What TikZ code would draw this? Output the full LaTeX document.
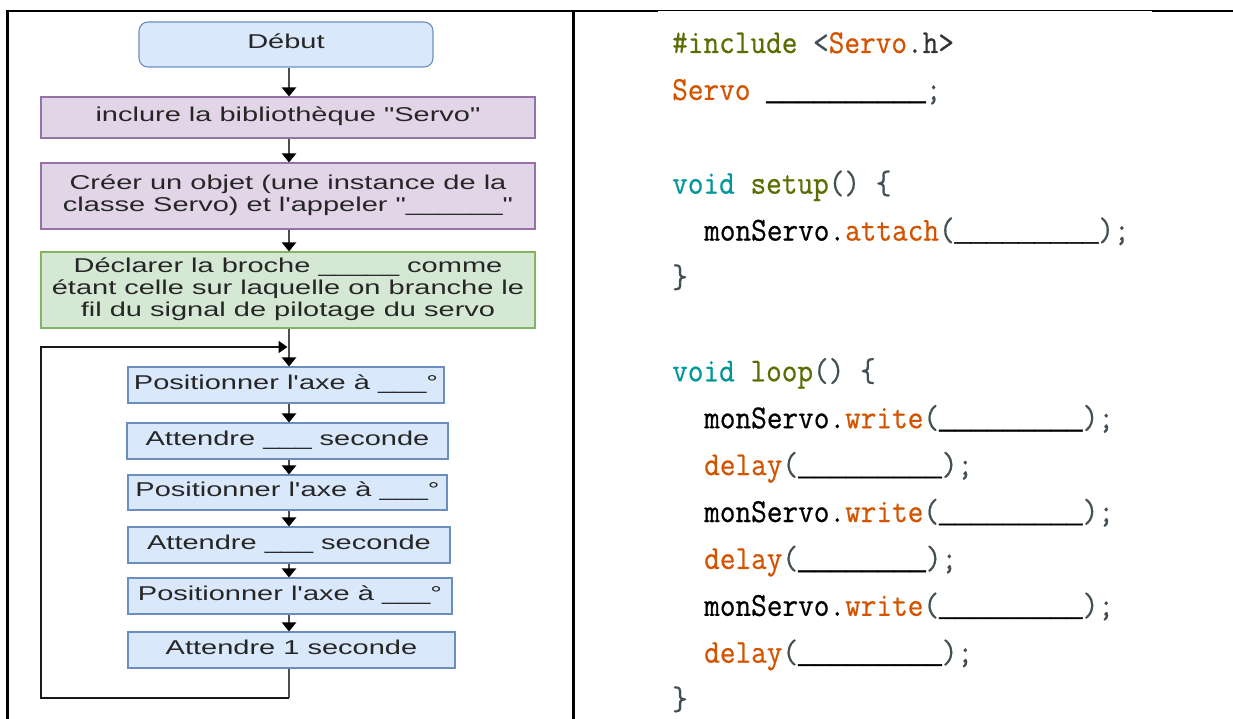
\documentclass[tikz,border=0pt]{standalone}
\usepackage{fontspec}
\usepackage{graphicx}
\usetikzlibrary{arrows.meta}
\newfontfamily\flowfont{Liberation Sans}
\newfontfamily\codefont{Latin Modern Mono}[FakeBold=0.6]
\newfontfamily\blankfont{Liberation Mono}[FakeBold=1.6]

\definecolor{blueF}{HTML}{DAE8FC}\definecolor{blueS}{HTML}{6C8EBF}
\definecolor{purpF}{HTML}{E1D5E7}\definecolor{purpS}{HTML}{9673A6}
\definecolor{greenF}{HTML}{D5E8D4}\definecolor{greenS}{HTML}{82B366}
\definecolor{kwOlive}{HTML}{5E6D03}
\definecolor{kwOrange}{HTML}{D35400}
\definecolor{kwTeal}{HTML}{00979C}
\definecolor{punct}{HTML}{434F54}
\definecolor{conn}{HTML}{4D4D4D}

% wide flowchart lettering
\newcommand{\flowtxt}[1]{\scalebox{1.45}[1]{\begin{tabular}{@{}c@{}}#1\end{tabular}}}
% slightly tall monospace code lettering
\newcommand{\codetxt}[1]{\scalebox{1}[1.1]{#1}}
\newcommand{\pc}[1]{\textcolor{punct}{#1}}
\newcommand{\og}[1]{\textcolor{kwOrange}{#1}}
% fill-in blanks: underscores from a face whose underscore spans the full cell
\newcommand{\blk}[1]{{\color{black}\blankfont\fontsize{26.6}{30}\selectfont#1}}

\tikzset{
  box/.style={draw, line width=1.1pt, inner sep=0pt, text=black!85,
    font=\flowfont\fontsize{20}{22}\selectfont},
  bluebox/.style={box, fill=blueF, draw=blueS},
  purplebox/.style={box, fill=purpF, draw=purpS},
  greenbox/.style={box, fill=greenF, draw=greenS},
  flow/.style={draw=conn, line width=2.4pt,
    -{Triangle[length=9pt,width=14pt,color=black]}},
  loopline/.style={draw=black!90, line width=1.8pt,
    -{Triangle[length=9pt,width=12pt,color=black]}},
  rule/.style={line width=2.2pt},
  code/.style={anchor=base west, inner sep=0pt,
    font=\codefont\fontsize{30.4}{34}\selectfont}
}

\begin{document}
\begin{tikzpicture}[x=1pt, y=-1pt]
\useasboundingbox[fill=white] (0,0) rectangle (1233,719);

% ---- table rules ----
\draw[rule] (7.5,719) -- (7.5,11) -- (658,11);
\draw[line width=1pt] (658,11) -- (1152,11);
\draw[rule] (1152,11) -- (1233,11);
\draw[rule] (573.5,11) -- (573.5,719);

% ---- flowchart ----
\node[bluebox, rounded corners=9pt, minimum width=294pt, minimum height=45pt]
  (start) at (286,44.5) {\flowtxt{Début}};
\node[purplebox, minimum width=494pt, minimum height=41pt]
  (incl) at (288,117.5) {\flowtxt{inclure la bibliothèque "Servo"}};
\node[purplebox, minimum width=494pt, minimum height=66pt]
  (obj) at (288,196) {\flowtxt{Créer un objet (une instance de la\\classe Servo) et l'appeler "\_\_\_\_\_\_"}};
\node[greenbox, minimum width=494pt, minimum height=76pt]
  (pin) at (288,290) {\flowtxt{Déclarer la broche \_\_\_\_\_ comme\\étant celle sur laquelle on branche le\\fil du signal de pilotage du servo}};
\node[bluebox, minimum width=316pt, minimum height=36pt]
  (p1) at (286,385) {\flowtxt{Positionner l'axe à \_\_\_°}};
\node[bluebox, minimum width=321pt, minimum height=36pt]
  (a1) at (287.5,441) {\flowtxt{Attendre \_\_\_ seconde}};
\node[bluebox, minimum width=319pt, minimum height=35pt]
  (p2) at (287.5,492.5) {\flowtxt{Positionner l'axe à \_\_\_°}};
\node[bluebox, minimum width=322pt, minimum height=36pt]
  (a2) at (289,545) {\flowtxt{Attendre \_\_\_ seconde}};
\node[bluebox, minimum width=324pt, minimum height=36pt]
  (p3) at (290,596) {\flowtxt{Positionner l'axe à \_\_\_°}};
\node[bluebox, minimum width=327pt, minimum height=36pt]
  (a3) at (291.5,650) {\flowtxt{Attendre 1 seconde}};

\coordinate (join) at (289,347);
\coordinate (lb) at (41,698);
\coordinate (lt) at (41,347);

\draw[flow] (start.south -| join) -- (incl.north -| join);
\draw[flow] (incl.south -| join) -- (obj.north -| join);
\draw[flow] (obj.south -| join) -- (pin.north -| join);
\draw[flow] (pin.south -| join) -- (p1.north -| join);
\draw[flow] (p1.south -| join) -- (a1.north -| join);
\draw[flow] (a1.south -| join) -- (p2.north -| join);
\draw[flow] (p2.south -| join) -- (a2.north -| join);
\draw[flow] (a2.south -| join) -- (p3.north -| join);
\draw[flow] (p3.south -| join) -- (a3.north -| join);
\draw[draw=conn, line width=2.4pt] (a3.south -| join) -- (lb -| join);
\draw[loopline, shorten >=1.5pt] (lb -| join) -- (lb) -- (lt) -- (join);

% ---- Arduino sketch ----
\node[code] (c1) at (672,53) {\codetxt{\textcolor{kwOlive}{\#include} \pc{<}\og{Servo}\textcolor{black!80}{.h>}}};
\node[code] (c2) at (672,99.9) {\codetxt{\og{Servo} \blk{\_\_\_\_\_\_\_\_\_\_}\pc{;}}};
\node[code] (c3) at (672,193.7) {\codetxt{\textcolor{kwTeal}{void} \textcolor{kwOlive}{setup}\pc{() \{}}};
\node[code] (c4) at (704,240.6) {\codetxt{monServo.\og{attach}\pc{(}\blk{\_\_\_\_\_\_\_\_\_}\pc{);}}};
\node[code] (c5) at (672,287.5) {\codetxt{\pc{\}}}};
\node[code] (c6) at (672,381.3) {\codetxt{\textcolor{kwTeal}{void} \textcolor{kwOlive}{loop}\pc{() \{}}};
\node[code] (c7) at (704,428.2) {\codetxt{monServo.\og{write}\pc{(}\blk{\_\_\_\_\_\_\_\_\_}\pc{);}}};
\node[code] (c8) at (704,475.1) {\codetxt{\og{delay}\pc{(}\blk{\_\_\_\_\_\_\_\_\_}\pc{);}}};
\node[code] (c9) at (704,522) {\codetxt{monServo.\og{write}\pc{(}\blk{\_\_\_\_\_\_\_\_\_}\pc{);}}};
\node[code] (c10) at (704,568.9) {\codetxt{\og{delay}\pc{(}\blk{\_\_\_\_\_\_\_\_}\pc{);}}};
\node[code] (c11) at (704,615.8) {\codetxt{monServo.\og{write}\pc{(}\blk{\_\_\_\_\_\_\_\_\_}\pc{);}}};
\node[code] (c12) at (704,662.7) {\codetxt{\og{delay}\pc{(}\blk{\_\_\_\_\_\_\_\_\_}\pc{);}}};
\node[code] (c13) at (672,709.6) {\codetxt{\pc{\}}}};
\end{tikzpicture}
\end{document}
